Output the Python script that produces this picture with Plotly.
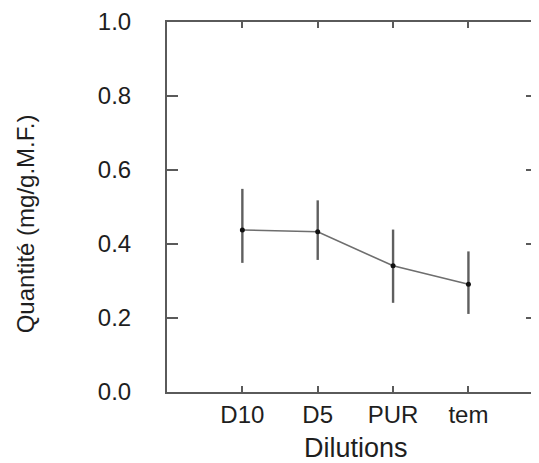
import plotly.graph_objects as go

categories = ["D10", "D5", "PUR", "tem"]
means = [0.438, 0.433, 0.341, 0.291]
errors_plus = [0.111, 0.085, 0.098, 0.089]
errors_minus = [0.089, 0.076, 0.100, 0.080]
y_ticks = [0.0, 0.2, 0.4, 0.6, 0.8, 1.0]
y_tick_text = ["0.0", "0.2", "0.4", "0.6", "0.8", "1.0"]

FONT = "Liberation Sans, Arial, sans-serif"
TXT = "#1e1e1e"
AX = "#5a5a5a"

fig = go.Figure()
fig.add_trace(go.Scatter(
    x=list(range(len(categories))), y=means,
    mode="lines+markers",
    line=dict(color="#6e6e6e", width=1.6),
    marker=dict(color="#111111", size=5),
    error_y=dict(type="data", symmetric=False, array=errors_plus,
                 arrayminus=errors_minus, visible=True,
                 color="#5f5f5f", thickness=2.4, width=0),
    showlegend=False,
))

fig.update_layout(
    width=531, height=455,
    margin=dict(l=159, r=0, t=10, b=71),
    paper_bgcolor="white", plot_bgcolor="white",
    font=dict(family=FONT, color=TXT),
    xaxis=dict(
        range=[-1.0, 3.91],
        tickmode="array", tickvals=list(range(len(categories))), ticktext=categories,
        ticks="inside", ticklen=6, tickwidth=1.8, tickcolor=AX,
        showline=True, linecolor=AX, linewidth=2, mirror="ticks",
        showgrid=False, zeroline=False,
        tickfont=dict(size=24, color=TXT),
    ),
    yaxis=dict(
        range=[0, 1],
        tickmode="array", tickvals=y_ticks, ticktext=y_tick_text,
        ticks="inside", ticklen=11, tickwidth=1.8, tickcolor=AX,
        showline=True, linecolor=AX, linewidth=2, mirror="ticks",
        showgrid=False, zeroline=False,
        tickfont=dict(size=24, color=TXT),
        ticklabelstandoff=29,
        ticklabeloverflow="allow",
    ),
    annotations=[
        dict(text="Dilutions", xref="paper", yref="paper", x=0.51, y=-0.152,
             xanchor="center", yanchor="middle", showarrow=False,
             font=dict(size=27, color=TXT)),
        dict(text="Quantité (mg/g.M.F.)", xref="paper", yref="paper",
             x=-0.382, y=0.455, textangle=-90,
             xanchor="center", yanchor="middle", showarrow=False,
             font=dict(size=24, color=TXT)),
    ],
)

fig.write_html("out.html")
